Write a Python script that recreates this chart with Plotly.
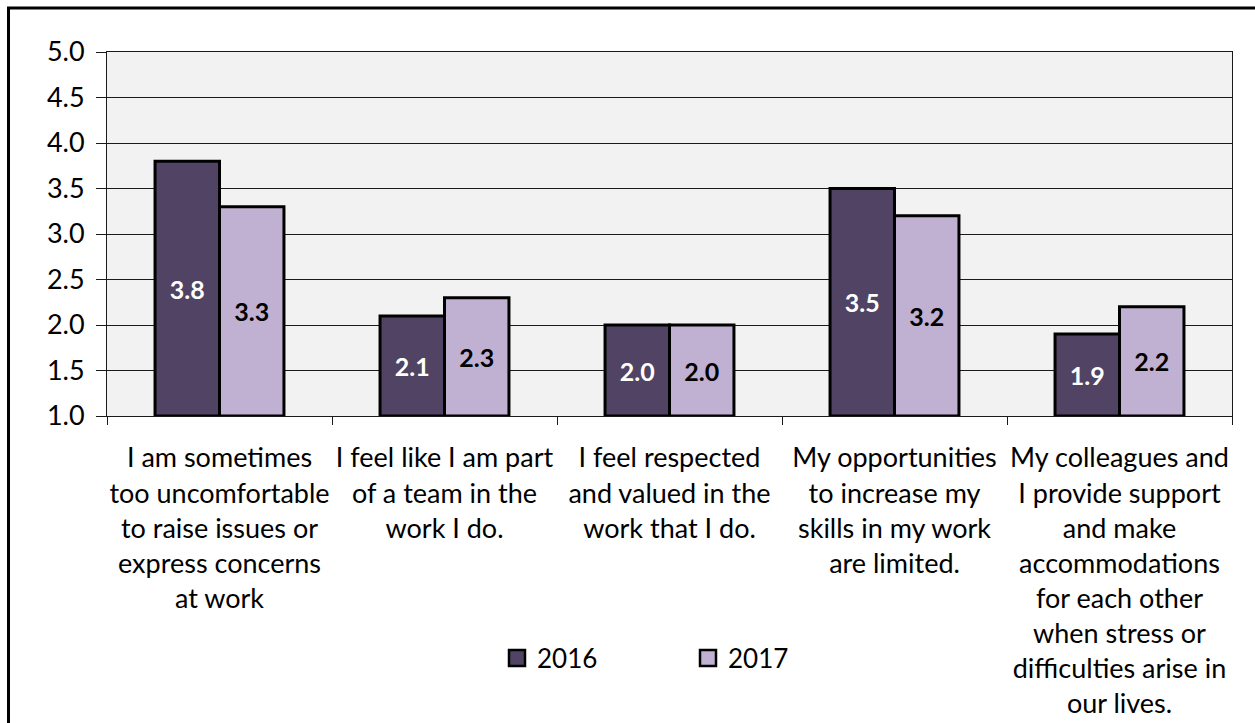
import plotly.graph_objects as go

# Survey statements (category labels, wrapped as shown on the axis)
categories = [
    "I am sometimes<br>too uncomfortable<br>to raise issues or<br>express concerns<br>at work",
    "I feel like I am part<br>of a team in the<br>work I do.",
    "I feel respected<br>and valued in the<br>work that I do.",
    "My opportunities<br>to increase my<br>skills in my work<br>are limited.",
    "My colleagues and<br>I provide support<br>and make<br>accommodations<br>for each other<br>when stress or<br>difficulties arise in<br>our lives.",
]
scores_2016 = [3.8, 2.1, 2.0, 3.5, 1.9]
scores_2017 = [3.3, 2.3, 2.0, 3.2, 2.2]
y_ticks = [1.0, 1.5, 2.0, 2.5, 3.0, 3.5, 4.0, 4.5, 5.0]
AXIS_FLOOR = 1.0

FONT = "Lato"
DARK = "#514363"
LIGHT = "#c0b0d2"


def score_bar(name, scores, fill, label_color):
    # bars rise from the axis floor (1.0) up to each score
    return go.Bar(
        name=name, x=categories,
        base=[AXIS_FLOOR] * len(scores),
        y=[s - AXIS_FLOOR for s in scores],
        customdata=scores,
        marker=dict(color=fill, line=dict(color="black", width=3)),
        texttemplate="<b>%{customdata:.1f}</b>", textposition="inside",
        insidetextanchor="middle",
        textfont=dict(family=FONT, size=25, color=label_color),
        hovertemplate="%{customdata:.1f}<extra>" + name + "</extra>",
        legendgroup=name, showlegend=False,
    )


def legend_key(name, fill):
    # larger square legend swatch for the series
    return go.Scatter(
        name=name, x=[None], y=[None], mode="markers",
        marker=dict(symbol="square", size=16, color=fill,
                    line=dict(color="black", width=2.5)),
        legendgroup=name, showlegend=True, hoverinfo="skip",
    )


fig = go.Figure()
fig.add_trace(score_bar("2016", scores_2016, DARK, "white"))
fig.add_trace(score_bar("2017", scores_2017, LIGHT, "black"))
fig.add_trace(legend_key("2016", DARK))
fig.add_trace(legend_key("2017", LIGHT))

# plot area spans x 107..1232, y 52..416 in pixels
L, R, T, B = 107, 23, 52, 307
W, H = 1255, 723
pw, ph = W - L - R, H - T - B

fig.update_layout(
    width=W, height=H,
    margin=dict(l=L, r=R, t=T, b=B, pad=0, autoexpand=False),
    paper_bgcolor="white",
    plot_bgcolor="#f2f2f2",
    barmode="group", bargap=0.427, bargroupgap=0,
    font=dict(family=FONT, size=27, color="black"),
    showlegend=True,
    legend=dict(
        orientation="h", x=(497 - L) / pw, xanchor="left",
        y=(T + ph - 658) / ph, yanchor="middle",
        entrywidth=146, entrywidthmode="pixels",
        font=dict(family=FONT, size=26, color="black"),
        bgcolor="rgba(0,0,0,0)", traceorder="normal",
    ),
    shapes=[dict(
        type="rect", xref="paper", yref="paper",
        x0=(8.5 - L) / pw, x1=(W + 10 - L) / pw,
        y0=(T + ph - (H + 10)) / ph, y1=(T + ph - 8) / ph,
        line=dict(color="black", width=3), fillcolor="rgba(0,0,0,0)",
        layer="above",
    )],
)

fig.update_yaxes(
    range=[1, 5], tickvals=y_ticks, ticktext=[f"{v:.1f}" for v in y_ticks],
    showgrid=True, gridcolor="#1a1a1a", gridwidth=1,
    showline=True, linecolor="#1a1a1a", linewidth=1, mirror=True,
    ticks="outside", ticklen=10, tickcolor="#1a1a1a", tickwidth=1,
    ticklabelstandoff=6, automargin=False,
    tickfont=dict(family=FONT, size=27, color="black"),
    zeroline=False,
)
fig.update_xaxes(
    showline=True, linecolor="#1a1a1a", linewidth=1, mirror=True,
    ticks="outside", ticklen=8, tickcolor="#1a1a1a", tickwidth=1,
    tickson="boundaries", showgrid=False,
    ticklabelstandoff=18, automargin=False,
    tickfont=dict(family=FONT, size=27, color="black"),
    tickangle=0,
)

fig.write_html("out.html")
